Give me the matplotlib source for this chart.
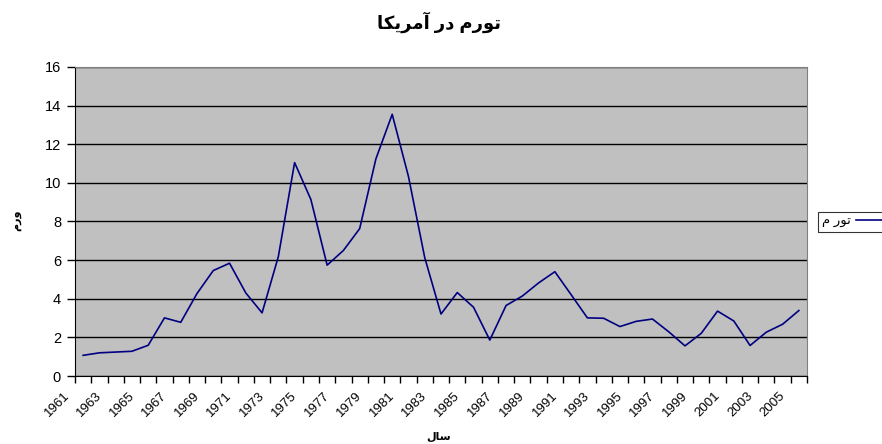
import numpy as np
import matplotlib.pyplot as plt
from matplotlib.transforms import ScaledTranslation

plt.rcParams['font.family'] = ['Liberation Sans', 'DejaVu Sans']

# inflation in the US, 1961-2005
years = list(range(1961, 2006))
inflation = [1.07, 1.20, 1.24, 1.28, 1.59, 3.01, 2.78, 4.27, 5.46, 5.84,
             4.30, 3.27, 6.18, 11.05, 9.14, 5.74, 6.50, 7.63, 11.25, 13.55,
             10.33, 6.13, 3.21, 4.32, 3.56, 1.86, 3.65, 4.14, 4.82, 5.40,
             4.21, 3.01, 2.99, 2.56, 2.83, 2.95, 2.29, 1.56, 2.21, 3.36,
             2.85, 1.58, 2.27, 2.68, 3.39]
yticks = [0, 2, 4, 6, 8, 10, 12, 14, 16]

# persian text, written in presentation forms in visual order (no shaping in matplotlib)
title = "\uFE8E\uFEDC\uFEF3\uFEAE\uFEE3\uFE81 \uFEAD\uFEA9 \uFEE1\uFEAD\uFEEE\uFE97"  # تورم در آمریکا
series_name = "\uFEE1 \uFEAD\uFEEE\uFE97"  # تورم
ylab = "\uFEE1\uFEAD\uFEED"                # ورم
xlab = "\uFEDD\uFE8E\uFEB3"                # سال

fig = plt.figure(figsize=(8.82, 4.44), dpi=100)
ax = fig.add_axes([75/882, 1-376/444, 732/882, 309/444])
ax.set_facecolor('#C0C0C0')

x = np.arange(len(years))
ax.plot(x, inflation, color='#000080', lw=1.2, label=series_name, zorder=3)

ax.set_xlim(-0.5, len(years)-0.5)
ax.set_ylim(0, 16)
ax.set_yticks(yticks)
ax.grid(axis='y', color='black', lw=1)
ax.set_axisbelow(True)

# ticks between categories, labels on every second year
ax.set_xticks(np.arange(-0.5, len(years)), minor=True)
ax.set_xticks(x[::2])
ax.set_xticklabels([str(y) for y in years[::2]], rotation=45, ha='right', va='top',
                   rotation_mode='anchor', fontsize=9.5)
ax.tick_params(axis='x', which='major', length=0, pad=10)
ax.tick_params(axis='x', which='minor', length=5, width=1, color='black')
ax.tick_params(axis='y', length=6, width=1, labelsize=10.5, pad=4)
for lab in ax.get_xticklabels():
    lab.set_transform(lab.get_transform() + ScaledTranslation(-0.2, 0, fig.dpi_scale_trans))

for s in ['top', 'right']:
    ax.spines[s].set_color('#808080')
for s in ['left', 'bottom']:
    ax.spines[s].set_color('black')

fig.text(439/882, 1-22/444, title, ha='center', va='center', fontsize=13, fontweight='bold')
fig.text(16/882, 1-220/444, ylab, rotation=90, ha='center', va='center', fontsize=8, fontweight='bold')
fig.text(439/882, 1-437/444, xlab, ha='center', va='center', fontsize=8, fontweight='bold')

leg = fig.legend(loc='center left', bbox_to_anchor=(818/882, 1-222/444), markerfirst=False,
                 frameon=True, fancybox=False, edgecolor='black', fontsize=9.5,
                 handlelength=2.6, borderpad=0.3, handletextpad=0.4, borderaxespad=0)
leg.get_frame().set_linewidth(0.8)

fig.savefig('out.png', dpi=100)
